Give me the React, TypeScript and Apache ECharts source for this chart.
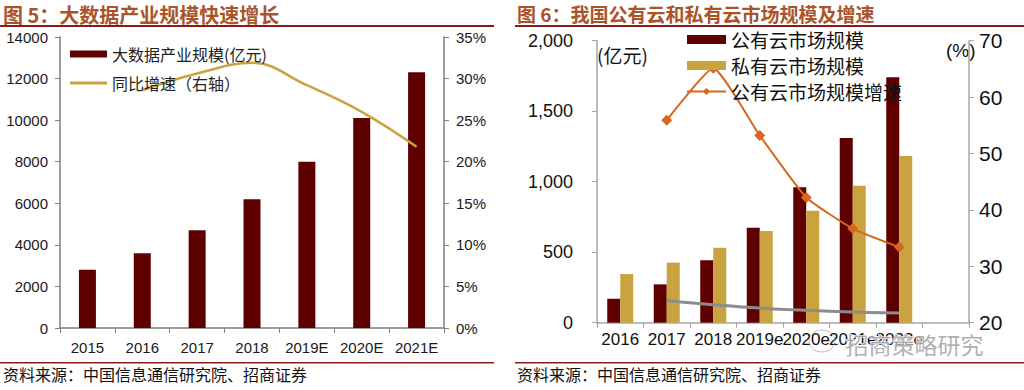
import React, { useEffect, useRef } from "react";
import * as echarts from "echarts";

// ---- Figure 5: big data industry scale ----
const bigDataYears = ["2015", "2016", "2017", "2018", "2019E", "2020E", "2021E"];
const bigDataScale = [2800, 3600, 4700, 6200, 8000, 10100, 12300];
const bigDataGrowth = [null, 28.6, 30.6, 31.9, 29.2, 26.0, 21.8];

// ---- Figure 6: public / private cloud ----
const cloudYears = ["2016", "2017", "2018", "2019e", "2020e", "2021e", "2022e", ""];
const publicCloud = [170, 272, 443, 674, 960, 1310, 1740, null];
const privateCloud = [345, 426, 532, 650, 794, 972, 1182, null];
const publicGrowth = [null, 55.9, 65.1, 53.2, 42.2, 36.7, 33.4, null];
const greyLine = [null, 23.9, 23.2, 22.6, 22.2, 21.9, 21.7, null];

const leftNames = ["大数据产业规模(亿元)", "同比增速（右轴）"];
const rightNames = ["公有云市场规模", "私有云市场规模", "公有云市场规模增速"];

const title5 = "图 5：大数据产业规模快速增长";
const title6 = "图 6：我国公有云和私有云市场规模及增速";
const sourceText = "资料来源：中国信息通信研究院、招商证券";

const MAROON = "#5E0000";
const GOLD = "#C9A33F";
const ORANGE = "#D8661F";
const CJK = "'Noto Sans CJK SC', sans-serif";
const LAT = "'Liberation Sans', Arial, sans-serif";

function fmtThousands(v: number) {
  if (v >= 1000) {
    const r = v % 1000;
    return Math.floor(v / 1000) + "," + String(r).padStart(3, "0");
  }
  return String(v);
}

export default function App() {
  const ref = useRef<HTMLDivElement>(null);
  useEffect(() => {
    if (!ref.current) return;
    const chart = echarts.init(ref.current, undefined, { renderer: "svg" });
    const axisLeftColor = "#7F7F7F";
    const axisRightColor = "#A6A6A6";
    const option: any = {
      animation: false,
      backgroundColor: "#ffffff",
      textStyle: { fontFamily: LAT },
      grid: [
        { left: 60, top: 37, width: 384, height: 291 },
        { left: 597, top: 40.7, width: 372, height: 282 },
      ],
      legend: [
        {
          data: [
            { name: leftNames[0], icon: "rect" },
            { name: leftNames[1], icon: "path://M0 0H40V3H0Z" },
          ],
          orient: "vertical",
          left: 70,
          top: 46,
          padding: 0,
          itemWidth: 37,
          itemHeight: 7,
          itemGap: 13,
          textStyle: { fontSize: 16, fontFamily: CJK, color: "#222" },
        },
        {
          data: [
            { name: rightNames[0], icon: "rect" },
            { name: rightNames[1], icon: "rect" },
            { name: rightNames[2] },
          ],
          orient: "vertical",
          left: 686,
          top: 30,
          padding: 0,
          itemWidth: 39,
          itemHeight: 9,
          itemGap: 7,
          textStyle: { fontSize: 19, fontFamily: CJK, color: "#111", lineHeight: 19 },
        },
      ],
      xAxis: [
        {
          gridIndex: 0,
          type: "category",
          data: bigDataYears,
          axisLine: { lineStyle: { color: axisLeftColor, width: 1.5 } },
          axisTick: { show: true, length: 5, lineStyle: { color: axisLeftColor } },
          axisLabel: { interval: 0, fontSize: 15, color: "#1a1a1a", margin: 12 },
        },
        {
          gridIndex: 1,
          type: "category",
          data: cloudYears,
          axisLine: { lineStyle: { color: axisRightColor, width: 1.5 } },
          axisTick: { show: true, length: 5, lineStyle: { color: axisRightColor } },
          axisLabel: { interval: 0, fontSize: 17, color: "#111", margin: 8 },
        },
      ],
      yAxis: [
        {
          gridIndex: 0,
          type: "value",
          min: 0,
          max: 14000,
          interval: 2000,
          position: "left",
          splitLine: { show: false },
          axisLine: { show: true, lineStyle: { color: axisLeftColor, width: 1.5 } },
          axisTick: { show: true, length: 5, lineStyle: { color: axisLeftColor } },
          axisLabel: { fontSize: 15, color: "#1a1a1a", margin: 12, formatter: (v: number) => String(v) },
        },
        {
          gridIndex: 0,
          type: "value",
          min: 0,
          max: 35,
          interval: 5,
          position: "right",
          splitLine: { show: false },
          axisLine: { show: true, lineStyle: { color: axisLeftColor, width: 1.5 } },
          axisTick: { show: true, length: 5, lineStyle: { color: axisLeftColor } },
          axisLabel: { fontSize: 15, color: "#1a1a1a", margin: 12, formatter: "{value}%" },
        },
        {
          gridIndex: 1,
          type: "value",
          min: 0,
          max: 2000,
          interval: 500,
          position: "left",
          splitLine: { show: false },
          axisLine: { show: true, lineStyle: { color: axisRightColor, width: 1.5 } },
          axisTick: { show: true, length: 5, lineStyle: { color: axisRightColor } },
          axisLabel: { fontSize: 18, color: "#111", margin: 24, formatter: (v: number) => fmtThousands(v) },
        },
        {
          gridIndex: 1,
          type: "value",
          min: 20,
          max: 70,
          interval: 10,
          position: "right",
          splitLine: { show: false },
          axisLine: { show: true, lineStyle: { color: axisRightColor, width: 1.5 } },
          axisTick: { show: true, length: 5, lineStyle: { color: axisRightColor } },
          axisLabel: { fontSize: 21, color: "#111", margin: 10 },
        },
      ],
      series: [
        {
          name: leftNames[0],
          type: "bar",
          xAxisIndex: 0,
          yAxisIndex: 0,
          data: bigDataScale,
          barWidth: 17,
          itemStyle: { color: MAROON },
        },
        {
          name: leftNames[1],
          type: "line",
          xAxisIndex: 0,
          yAxisIndex: 1,
          data: bigDataGrowth,
          smooth: 0.4,
          symbol: "none",
          lineStyle: { color: GOLD, width: 2.5 },
          itemStyle: { color: GOLD },
        },
        {
          name: rightNames[0],
          type: "bar",
          xAxisIndex: 1,
          yAxisIndex: 2,
          data: publicCloud,
          barWidth: 13,
          barGap: "0%",
          itemStyle: { color: MAROON },
        },
        {
          name: rightNames[1],
          type: "bar",
          xAxisIndex: 1,
          yAxisIndex: 2,
          data: privateCloud,
          barWidth: 13,
          barGap: "0%",
          itemStyle: { color: GOLD },
        },
        {
          name: rightNames[2],
          type: "line",
          xAxisIndex: 1,
          yAxisIndex: 3,
          data: publicGrowth,
          smooth: 0.15,
          symbol: "diamond",
          symbolSize: 11,
          lineStyle: { color: ORANGE, width: 2 },
          itemStyle: { color: ORANGE },
        },
        {
          name: "grey",
          type: "line",
          xAxisIndex: 1,
          yAxisIndex: 3,
          data: greyLine,
          smooth: 0.4,
          symbol: "none",
          lineStyle: { color: "#8C8C8C", width: 3 },
          itemStyle: { color: "#8C8C8C" },
        },
      ],
      graphic: [
        { type: "text", left: 3, top: 4, style: { text: title5, font: `bold 20px ${CJK}`, fill: "#A9542A" } },
        { type: "text", left: 517, top: 4, style: { text: title6, font: `bold 19px ${CJK}`, fill: "#A9542A" } },
        { type: "rect", shape: { x: 0, y: 25, width: 494, height: 2 }, style: { fill: "#8B1A1A" } },
        { type: "rect", shape: { x: 515, y: 25, width: 509, height: 2 }, style: { fill: "#8B1A1A" } },
        { type: "rect", shape: { x: 0, y: 362, width: 494, height: 1.5 }, style: { fill: "#8B1A1A" } },
        { type: "rect", shape: { x: 515, y: 362, width: 509, height: 1.5 }, style: { fill: "#8B1A1A" } },
        { type: "text", left: 3, top: 366, style: { text: sourceText, font: `16px ${CJK}`, fill: "#111" } },
        { type: "text", left: 517, top: 366, style: { text: sourceText, font: `16px ${CJK}`, fill: "#111" } },
        { type: "text", left: 597, top: 45, style: { text: "(亿元)", font: `19px ${CJK}`, fill: "#111" } },
        { type: "text", left: 946, top: 41, style: { text: "(%)", font: `19px ${LAT}`, fill: "#111" } },
        {
          type: "text",
          left: 845,
          top: 332,
          z: 100,
          style: {
            text: "招商策略研究",
            font: `23px ${CJK}`,
            fill: "rgba(150,150,150,0.75)",
            stroke: "#ffffff",
            lineWidth: 1,
          },
        },
        {
          type: "ellipse",
          z: 100,
          shape: { cx: 822, cy: 341, rx: 13, ry: 11 },
          style: { fill: "none", stroke: "rgba(150,150,150,0.6)", lineWidth: 1 },
        },
      ],
    };
    chart.setOption(option);
    return () => chart.dispose();
  }, []);
  return (
    <div
      ref={ref}
      style={{ position: "absolute", left: 0, top: 0, width: 1024, height: 390, background: "#fff" }}
    />
  );
}
